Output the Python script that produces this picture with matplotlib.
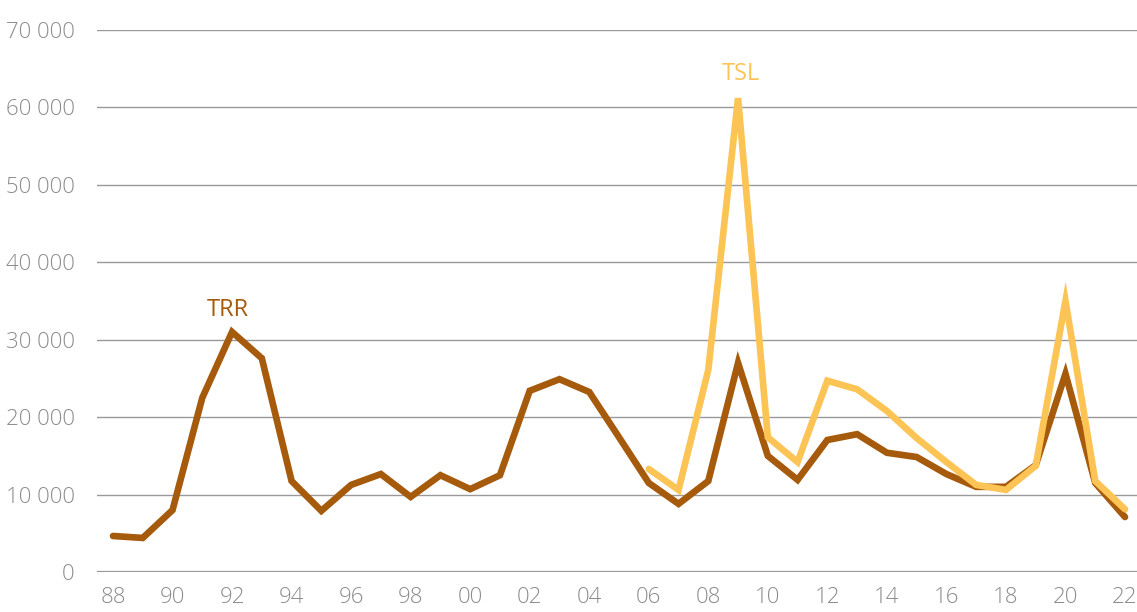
import matplotlib.pyplot as plt
from matplotlib.ticker import FuncFormatter

# data
years_trr = list(range(1988, 2023))
trr = [4650, 4400, 8000, 22500, 31000, 27600, 11750, 7900, 11250, 12650,
       9700, 12500, 10700, 12500, 23400, 24900, 23250, 17400, 11500, 8800,
       11750, 27000, 15000, 11900, 17050, 17800, 15400, 14850, 12650, 11000,
       11000, 13800, 25600, 11500, 7100]
years_tsl = list(range(2006, 2023))
tsl = [13300, 10600, 26100, 61200, 17400, 14200, 24700, 23600, 20800, 17300,
       14200, 11250, 10600, 13700, 35000, 11750, 8100]
xticks = list(range(1988, 2023, 2))
yticks = list(range(0, 70001, 10000))

c_trr = '#A65A0C'
c_tsl = '#FCC455'
grey = '#8c8c8c'

plt.rcParams['font.family'] = ['Open Sans', 'DejaVu Sans']

fig = plt.figure(figsize=(11.37, 6.12), dpi=100)
ax = fig.add_axes([97 / 1137, 40 / 612, 1 - 97 / 1137, 542 / 612])

for y in yticks:
    ax.axhline(y, color='#999999', lw=1.6 if y == 0 else 1.0, zorder=1)

ax.plot(years_trr, trr, color=c_trr, lw=4.8, solid_capstyle='round',
        solid_joinstyle='miter', zorder=3)
ax.plot(years_tsl, tsl, color=c_tsl, lw=4.8, solid_capstyle='round',
        solid_joinstyle='miter', zorder=4)

ax.text(1991.85, 33800, 'TRR', color=c_trr, fontsize=17, ha='center', va='center')
ax.text(2009.1, 64300, 'TSL', color=c_tsl, fontsize=17, ha='center', va='center')

ax.set_xlim(1988 - 16 / 29.76, 2022 + 12 / 29.76)
ax.set_ylim(0, 70000)
ax.set_xticks(xticks)
ax.set_xticklabels([f'{y % 100:02d}' for y in xticks])
ax.set_yticks(yticks)
ax.yaxis.set_major_formatter(FuncFormatter(lambda v, p: f'{int(v):,}'.replace(',', ' ')))
ax.tick_params(length=0, labelsize=16, labelcolor=grey)
for lab in ax.get_xticklabels() + ax.get_yticklabels():
    lab.set_fontweight('light')
ax.tick_params(axis='y', pad=16)
ax.tick_params(axis='x', pad=11)
for s in ax.spines.values():
    s.set_visible(False)

fig.savefig('out.png', dpi=100)
